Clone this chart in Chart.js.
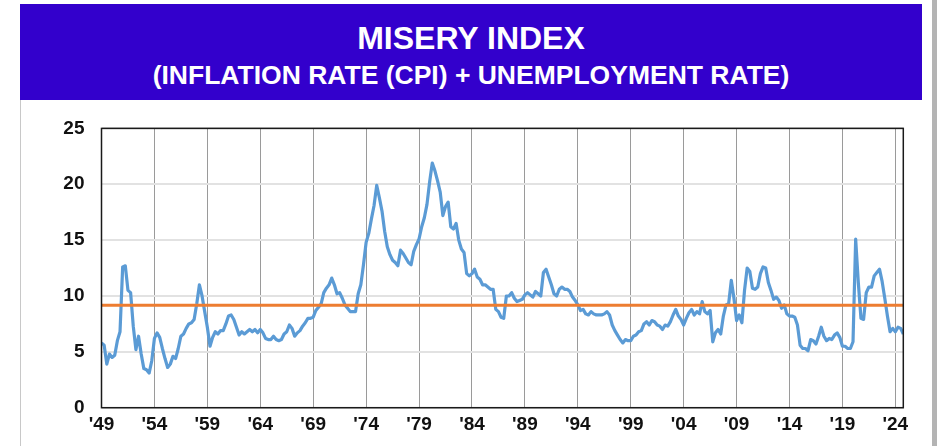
<!DOCTYPE html>
<html>
<head>
<meta charset="utf-8">
<script src="https://cdn.jsdelivr.net/npm/chart.js@4.4.1/dist/chart.umd.min.js"></script>
<style>
  html, body { margin: 0; padding: 0; background: #fff; }
  body { width: 940px; height: 446px; position: relative; overflow: hidden; }
  #banner {
    position: absolute; left: 20px; top: 4px; width: 902px; height: 96px;
    background: #3300cc; color: #fff; text-align: center;
    font-family: "Liberation Sans", Arial, sans-serif;
    font-weight: bold;
  }
  #banner .t1 { position: absolute; left: 0; right: 0; top: 16px; font-size: 32px; line-height: 36px; }
  #banner .t2 { position: absolute; left: 0; right: 0; top: 55px; font-size: 26.5px; line-height: 32px; }
  #edgeL { position: absolute; left: 20px; top: 100px; width: 1px; height: 346px; background: #c8c8c8; }
  #edgeR { position: absolute; left: 932px; top: 0; width: 5px; height: 446px; background: #b4b4b4; }
  #wrap { position: absolute; left: 0; top: 100px; width: 940px; height: 346px; }
</style>
</head>
<body>
<div id="banner">
  <div class="t1">MISERY INDEX</div>
  <div class="t2">(INFLATION RATE (CPI) + UNEMPLOYMENT RATE)</div>
</div>
<div id="edgeL"></div>
<div id="edgeR"></div>
<div id="wrap"><canvas id="chart"></canvas></div>
<script>
// quarterly readings (Jan, Apr, Jul, Oct) starting 1949
const startYear = 1949;
const misery = [
  5.8, 5.6, 3.9, 4.8,   // 1949
  4.5, 4.7, 6.0, 6.8,   // 1950
  12.6, 12.7, 10.5, 10.3, // 1951
  7.3, 5.2, 6.4, 4.8,   // 1952
  3.5, 3.4, 3.1, 4.2,   // 1953
  6.2, 6.7, 6.3, 5.3,   // 1954
  4.4, 3.6, 3.9, 4.6,   // 1955
  4.4, 5.3, 6.4, 6.6,   // 1956
  7.1, 7.5, 7.6, 7.9,   // 1957
  9.3, 11.0, 10.0, 8.6, // 1958
  7.2, 5.5, 6.3, 6.8,   // 1959
  6.6, 6.9, 6.9, 7.5,   // 1960
  8.2, 8.3, 7.9, 7.2,   // 1961
  6.5, 6.8, 6.6, 6.8,   // 1962
  7.0, 6.8, 7.0, 6.7,   // 1963
  7.0, 6.7, 6.2, 6.1,   // 1964
  6.1, 6.4, 6.1, 6.0,   // 1965
  6.1, 6.6, 6.8, 7.4,   // 1966
  7.1, 6.4, 6.7, 6.9,   // 1967
  7.3, 7.6, 8.0, 8.0,   // 1968
  8.1, 8.7, 9.0, 9.3,   // 1969
  10.3, 10.7, 11.0, 11.6, // 1970
  11.0, 10.2, 10.3, 9.8,  // 1971
  9.2, 8.9, 8.6, 8.6,     // 1972
  8.6, 10.2, 11.0, 12.8,  // 1973
  14.8, 15.6, 16.9, 18.1, // 1974
  19.9, 18.8, 17.6, 15.8, // 1975
  14.4, 13.7, 13.2, 13.0, // 1976
  12.7, 14.1, 13.8, 13.4, // 1977
  13.0, 12.8, 14.0, 14.6, // 1978
  15.1, 16.2, 17.0, 18.2, // 1979
  20.2, 21.9, 21.2, 20.3, // 1980
  19.3, 17.2, 18.0, 18.4, // 1981
  16.2, 16.0, 16.5, 15.0, // 1982
  14.2, 13.9, 12.0, 11.8, // 1983
  12.0, 12.4, 11.7, 11.5, // 1984
  11.0, 11.0, 10.8, 10.6, // 1985
  10.6, 8.8, 8.6, 8.1,    // 1986
  8.0, 10.0, 10.0, 10.3,  // 1987
  9.8, 9.5, 9.6, 9.7,     // 1988
  10.1, 10.3, 10.1, 9.9,  // 1989
  10.4, 10.2, 10.0, 12.1, // 1990
  12.4, 11.7, 11.0, 10.2, // 1991
  10.0, 10.6, 10.8, 10.6, // 1992
  10.6, 10.4, 9.9, 9.6,   // 1993
  9.2, 8.7, 8.8, 8.4,     // 1994
  8.3, 8.6, 8.4, 8.3,     // 1995
  8.3, 8.3, 8.4, 8.6,     // 1996
  8.3, 7.4, 6.9, 6.5,     // 1997
  6.1, 5.8, 6.1, 6.0,     // 1998
  6.0, 6.4, 6.5, 6.8,     // 1999
  6.9, 7.5, 7.7, 7.4,     // 2000
  7.8, 7.7, 7.4, 7.3,     // 2001
  7.0, 7.4, 7.3, 7.7,     // 2002
  8.3, 8.8, 8.2, 7.9,     // 2003
  7.4, 8.0, 8.5, 8.8,     // 2004
  8.3, 8.6, 8.4, 9.5,     // 2005
  8.6, 8.4, 8.7, 5.9,     // 2006
  6.7, 7.0, 6.6, 8.2,     // 2007
  9.2, 9.3, 11.4, 9.8,    // 2008
  7.8, 8.3, 7.6, 10.5,    // 2009
  12.5, 12.2, 10.7, 10.6, // 2010
  10.8, 12.0, 12.6, 12.5, // 2011
  11.2, 10.5, 9.7, 9.9,   // 2012
  9.6, 8.9, 9.2, 8.4,     // 2013
  8.2, 8.2, 8.1, 7.4,     // 2014
  5.6, 5.3, 5.3, 5.1,     // 2015
  6.1, 6.0, 5.7, 6.4,     // 2016
  7.2, 6.4, 6.0, 6.2,     // 2017
  6.1, 6.5, 6.7, 6.3,     // 2018
  5.5, 5.5, 5.3, 5.3,     // 2019
  5.9, 15.1, 11.2, 8.0,   // 2020
  7.9, 10.3, 10.8, 10.8,  // 2021
  11.8, 12.1, 12.4, 11.3, // 2022
  9.8, 8.2, 6.8, 7.1,     // 2023
  6.8, 7.2, 7.1, 6.6      // 2024
];
const averageValue = 9.17;
const tickYears = [1949, 1954, 1959, 1964, 1969, 1974, 1979, 1984, 1989, 1994, 1999, 2004, 2009, 2014, 2019, 2024];
const tickLabels = ["'49", "'54", "'59", "'64", "'69", "'74", "'79", "'84", "'89", "'94", "'99", "'04", "'09", "'14", "'19", "'24"];

const lastYear = startYear + (misery.length - 1) / 4;
const seriesPoints = misery.map((v, i) => ({ x: startYear + i / 4, y: v }));
const avgPoints = [{ x: startYear, y: averageValue }, { x: lastYear, y: averageValue }];

const framePlugin = {
  id: "frame",
  afterDatasetsDraw(chart) {
    const { ctx, chartArea: a } = chart;
    ctx.save();
    ctx.strokeStyle = "#1a1a1a";
    ctx.lineWidth = 1.5;
    ctx.strokeRect(a.left, a.top, a.right - a.left, a.bottom - a.top);
    ctx.restore();
  }
};

const tickFont = { family: "'Liberation Sans', Arial, sans-serif", weight: "bold", size: 19 };

new Chart(document.getElementById("chart").getContext("2d"), {
  type: "line",
  data: {
    datasets: [
      {
        data: seriesPoints,
        borderColor: "#5b9bd5",
        borderWidth: 3.2,
        pointRadius: 0,
        tension: 0,
        borderJoinStyle: "round",
        order: 2
      },
      {
        data: avgPoints,
        borderColor: "#ed7d31",
        borderWidth: 3,
        pointRadius: 0,
        order: 1
      }
    ]
  },
  options: {
    responsive: true,
    maintainAspectRatio: false,
    animation: false,
    layout: { padding: { top: 25.7, right: 36.7, left: 0, bottom: 0 } },
    plugins: { legend: { display: false }, tooltip: { enabled: false } },
    scales: {
      x: {
        type: "linear",
        min: startYear,
        max: lastYear,
        afterBuildTicks: (s) => { s.ticks = tickYears.map((v) => ({ value: v })); },
        afterFit: (s) => { s.height = 38.3; },
        grid: { color: "#9a9a9a", lineWidth: 1, drawTicks: false },
        border: { display: false },
        ticks: {
          font: tickFont,
          color: "#111",
          padding: 6,
          maxRotation: 0,
          autoSkip: false,
          callback: (v) => tickLabels[tickYears.indexOf(v)]
        }
      },
      y: {
        min: 0,
        max: 25,
        afterFit: (s) => { s.width = 101.5; },
        grid: { color: "#e2e2e2", lineWidth: 2, drawTicks: false },
        border: { display: false },
        ticks: { stepSize: 5, font: tickFont, color: "#111", padding: 17 }
      }
    }
  },
  plugins: [framePlugin]
});
</script>
</body>
</html>
